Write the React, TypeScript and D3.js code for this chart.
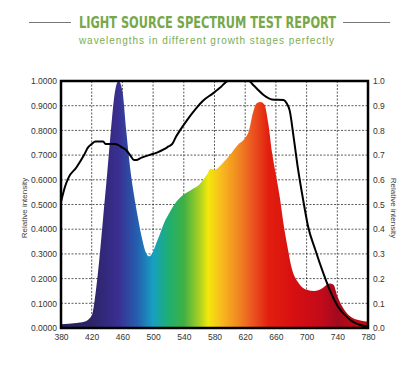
import React, { useRef, useEffect } from 'react';
import * as d3 from 'd3';

// spectrum fill (left axis, relative intensity)
const specWave = [380, 400, 410, 420, 425, 430, 435, 440, 445, 450, 455, 460, 465, 470, 475, 480, 485, 490, 495, 500, 505, 510, 515, 520, 530, 540, 550, 560, 570, 575, 580, 590, 600, 610, 620, 625, 630, 635, 640, 645, 650, 655, 660, 665, 670, 675, 680, 690, 700, 710, 720, 730, 735, 740, 750, 760, 770, 780];
const specValue = [0.015, 0.02, 0.025, 0.05, 0.14, 0.28, 0.45, 0.62, 0.8, 0.95, 1.0, 0.96, 0.8, 0.65, 0.54, 0.45, 0.37, 0.31, 0.29, 0.31, 0.35, 0.39, 0.43, 0.46, 0.51, 0.54, 0.56, 0.58, 0.62, 0.645, 0.64, 0.665, 0.7, 0.74, 0.77, 0.8, 0.87, 0.91, 0.915, 0.905, 0.83, 0.71, 0.62, 0.53, 0.42, 0.33, 0.25, 0.18, 0.155, 0.15, 0.16, 0.18, 0.175, 0.13, 0.07, 0.04, 0.03, 0.025];

// black curve (right axis)
const lineWave = [380, 385, 390, 400, 410, 415, 420, 425, 435, 438, 450, 455, 460, 465, 470, 475, 478, 485, 495, 505, 515, 520, 525, 530, 535, 545, 555, 565, 578, 588, 598, 625, 630, 635, 644, 655, 670, 674, 678, 683, 689, 696, 702, 711, 722, 730, 741, 752, 760, 770, 780];
const lineValue = [0.51, 0.57, 0.61, 0.65, 0.7, 0.73, 0.745, 0.755, 0.755, 0.745, 0.745, 0.74, 0.73, 0.72, 0.7, 0.68, 0.68, 0.69, 0.7, 0.71, 0.725, 0.735, 0.745, 0.775, 0.8, 0.845, 0.885, 0.92, 0.95, 0.975, 1.0, 1.0, 0.985, 0.97, 0.943, 0.925, 0.923, 0.91, 0.88, 0.775, 0.64, 0.51, 0.41, 0.32, 0.22, 0.155, 0.086, 0.046, 0.026, 0.012, 0.005];

const xTicks = [380, 420, 460, 500, 540, 580, 620, 660, 700, 740, 780];
const yTicks = [0, 0.1, 0.2, 0.3, 0.4, 0.5, 0.6, 0.7, 0.8, 0.9, 1.0];

// wavelength -> colour stops for the fill
const colorWave = [380, 420, 455, 480, 500, 520, 540, 560, 572, 590, 610, 630, 650, 680, 720, 740, 760, 780];
const colorHex = ['#28215e', '#2c2368', '#3a2f92', '#2460b0', '#16a0c2', '#1fae72', '#3fb044', '#a6d024', '#f2e80a', '#f8b820', '#f18a20', '#eb5420', '#e2200f', '#d81010', '#c20a1a', '#a20a1e', '#b80a14', '#c00a10'];

const App = () => {
  const svgRef = useRef(null);

  useEffect(() => {
    document.body.style.margin = '0';
    const svg = d3.select(svgRef.current);
    svg.selectAll('*').remove();

    const W = 420, H = 370;
    const margin = { top: 81, right: 52, bottom: 42, left: 61 };
    const x0 = margin.left, x1 = W - margin.right;
    const y0 = H - margin.bottom, y1 = margin.top;

    const x = d3.scaleLinear().domain([380, 780]).range([x0, x1]);
    const yL = d3.scaleLinear().domain([0, 1]).range([y0, y1]);
    const yR = d3.scaleLinear().domain([0, 1]).range([y0, y1]);

    // header
    const green = '#76a84a';
    svg.append('line').attr('x1', 29).attr('x2', 71).attr('y1', 22.5).attr('y2', 22.5)
      .attr('stroke', '#777').attr('stroke-width', 1);
    svg.append('line').attr('x1', 343).attr('x2', 390).attr('y1', 22.5).attr('y2', 22.5)
      .attr('stroke', '#777').attr('stroke-width', 1);
    svg.append('text').attr('x', 79).attr('y', 28)
      .attr('textLength', 257).attr('lengthAdjust', 'spacingAndGlyphs')
      .style('font-family', '"DejaVu Sans Condensed", "Liberation Sans", Arial, sans-serif')
      .style('font-stretch', 'condensed')
      .style('font-weight', 'bold').style('font-size', '16px').style('fill', green)
      .text('LIGHT SOURCE SPECTRUM TEST REPORT');
    svg.append('text').attr('x', 207).attr('y', 43.5).attr('text-anchor', 'middle')
      .style('font-family', '"Liberation Sans", Arial, sans-serif')
      .style('letter-spacing', '0.95px')
      .style('font-size', '10px').style('fill', '#7aad55')
      .text('wavelengths in different growth stages perfectly');

    const defs = svg.append('defs');
    const grad = defs.append('linearGradient').attr('id', 'spec-grad')
      .attr('gradientUnits', 'userSpaceOnUse')
      .attr('x1', x(380)).attr('x2', x(780)).attr('y1', 0).attr('y2', 0);
    colorWave.forEach((w, i) => {
      grad.append('stop').attr('offset', `${((w - 380) / 400) * 100}%`).attr('stop-color', colorHex[i]);
    });

    // grid
    const grid = svg.append('g').attr('stroke', '#333').attr('stroke-width', 0.8)
      .attr('stroke-dasharray', '2,1.5');
    xTicks.slice(1, -1).forEach(t => {
      grid.append('line').attr('x1', x(t)).attr('x2', x(t)).attr('y1', y0).attr('y2', y1);
    });
    yTicks.slice(1, -1).forEach(t => {
      grid.append('line').attr('x1', x0).attr('x2', x1).attr('y1', yL(t)).attr('y2', yL(t));
    });

    const spec = specWave.map((w, i) => ({ w, v: specValue[i] }));
    const area = d3.area()
      .x(d => x(d.w))
      .y0(y0)
      .y1(d => yL(d.v))
      .curve(d3.curveMonotoneX);
    svg.append('path').datum(spec).attr('fill', 'url(#spec-grad)').attr('d', area);

    const lineData = lineWave.map((w, i) => ({ w, v: lineValue[i] }));
    const line = d3.line()
      .x(d => x(d.w))
      .y(d => yR(d.v))
      .curve(d3.curveMonotoneX);
    svg.append('path').datum(lineData).attr('fill', 'none').attr('stroke', '#000')
      .attr('stroke-width', 2).attr('stroke-linejoin', 'round').attr('d', line);

    // frame
    svg.append('rect').attr('x', x0).attr('y', y1).attr('width', x1 - x0).attr('height', y0 - y1)
      .attr('fill', 'none').attr('stroke', '#000').attr('stroke-width', 2.5);

    const font = '"Liberation Sans", Arial, sans-serif';
    const xAxis = d3.axisBottom(x).tickValues(xTicks).tickSize(0).tickPadding(6).tickFormat(d3.format('d'));
    const yAxisL = d3.axisLeft(yL).tickValues(yTicks).tickSize(0).tickPadding(4).tickFormat(d3.format('.4f'));
    const yAxisR = d3.axisRight(yR).tickValues(yTicks).tickSize(0).tickPadding(5).tickFormat(d3.format('.1f'));

    svg.append('g').attr('transform', `translate(0,${y0})`).call(xAxis)
      .selectAll('text').style('font-size', '8.5px').style('font-family', font).style('fill', '#333');
    svg.append('g').attr('transform', `translate(${x0},0)`).call(yAxisL)
      .selectAll('text').style('font-size', '8.5px').style('font-family', font).style('fill', '#333');
    svg.append('g').attr('transform', `translate(${x1},0)`).call(yAxisR)
      .selectAll('text').style('font-size', '8.5px').style('font-family', font).style('fill', '#333');
    svg.selectAll('.domain').remove();

    svg.append('text').attr('transform', `translate(27,208) rotate(-90)`)
      .attr('text-anchor', 'middle').style('font-size', '8px').style('font-family', font)
      .style('fill', '#444').text('Relative intensity');
    svg.append('text').attr('transform', `translate(391,208) rotate(90)`)
      .attr('text-anchor', 'middle').style('font-size', '8px').style('font-family', font)
      .style('fill', '#444').text('Relative intensity');
  }, []);

  return (
    <div style={{ width: 420, height: 370 }}>
      <svg ref={svgRef} width={420} height={370} style={{ display: 'block', background: '#fff' }}></svg>
    </div>
  );
};

export default App;
